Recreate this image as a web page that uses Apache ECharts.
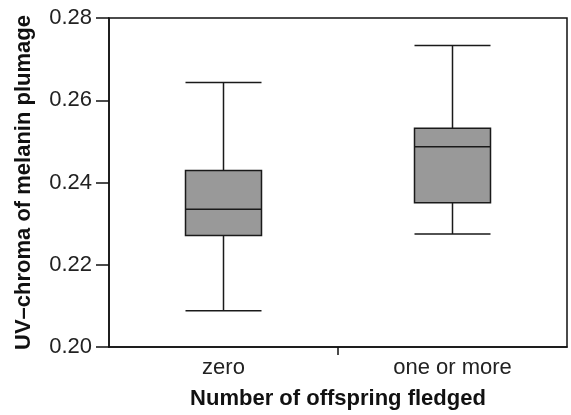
<!DOCTYPE html>
<html>
<head>
<meta charset="utf-8">
<script src="https://cdn.jsdelivr.net/npm/echarts@6/dist/echarts.min.js"></script>
<style>
  html, body { margin: 0; padding: 0; background: #fff; }
  #chart { width: 571px; height: 415px; }
</style>
</head>
<body>
<div id="chart"></div>
<script>
// categories and box values [min, Q1, median, Q3, max]
var categories = ['zero', 'one or more']
var boxZero = [0.2088, 0.2271, 0.2335, 0.2429, 0.2643]
var boxMore = [0.2275, 0.2351, 0.2487, 0.2532, 0.2733]
var yTicks = [0.20, 0.22, 0.24, 0.26, 0.28]

var font = 'Liberation Sans, Arial, sans-serif'
var chart = echarts.init(document.getElementById('chart'))

var option = {
  animation: false,
  grid: {
    left: 109, right: 4, top: 18, bottom: 65,
    show: true, borderColor: '#111', borderWidth: 1.5
  },
  xAxis: [{
    type: 'category',
    data: categories,
    axisLine: { lineStyle: { color: '#111', width: 1.5 } },
    axisTick: { show: false },
    axisLabel: { color: '#222', fontSize: 22, fontFamily: font, margin: 10 },
    name: 'Number of offspring fledged',
    nameLocation: 'middle',
    nameGap: 41,
    nameTextStyle: { color: '#111', fontSize: 22, fontWeight: 'bold', fontFamily: font }
  }, {
    // only carries the single tick between the two groups
    type: 'value',
    position: 'bottom',
    min: 0, max: 2,
    axisLine: { show: false },
    axisLabel: { show: false },
    splitLine: { show: false },
    axisTick: { show: true, customValues: [1], length: 8, lineStyle: { color: '#111', width: 1.5 } }
  }],
  yAxis: {
    type: 'value',
    min: yTicks[0],
    max: yTicks[yTicks.length - 1],
    interval: 0.02,
    axisLine: { show: true, lineStyle: { color: '#111', width: 1.5 } },
    axisTick: { show: true, length: 13, lineStyle: { color: '#111', width: 1.5 } },
    splitLine: { show: false },
    axisLabel: {
      color: '#222', fontSize: 22, fontFamily: font, margin: 17,
      formatter: function (v) { return v.toFixed(2) }
    },
    name: 'UV\u2013chroma of melanin plumage',
    nameLocation: 'middle',
    nameGap: 74,
    nameTextStyle: { color: '#111', fontSize: 22, fontWeight: 'bold', fontFamily: font }
  },
  series: [{
    type: 'boxplot',
    xAxisIndex: 0,
    boxWidth: [76, 76],
    itemStyle: { color: '#999999', borderColor: '#1a1a1a', borderWidth: 1.5 },
    data: [boxZero, boxMore]
  }]
}

chart.setOption(option)
</script>
</body>
</html>
